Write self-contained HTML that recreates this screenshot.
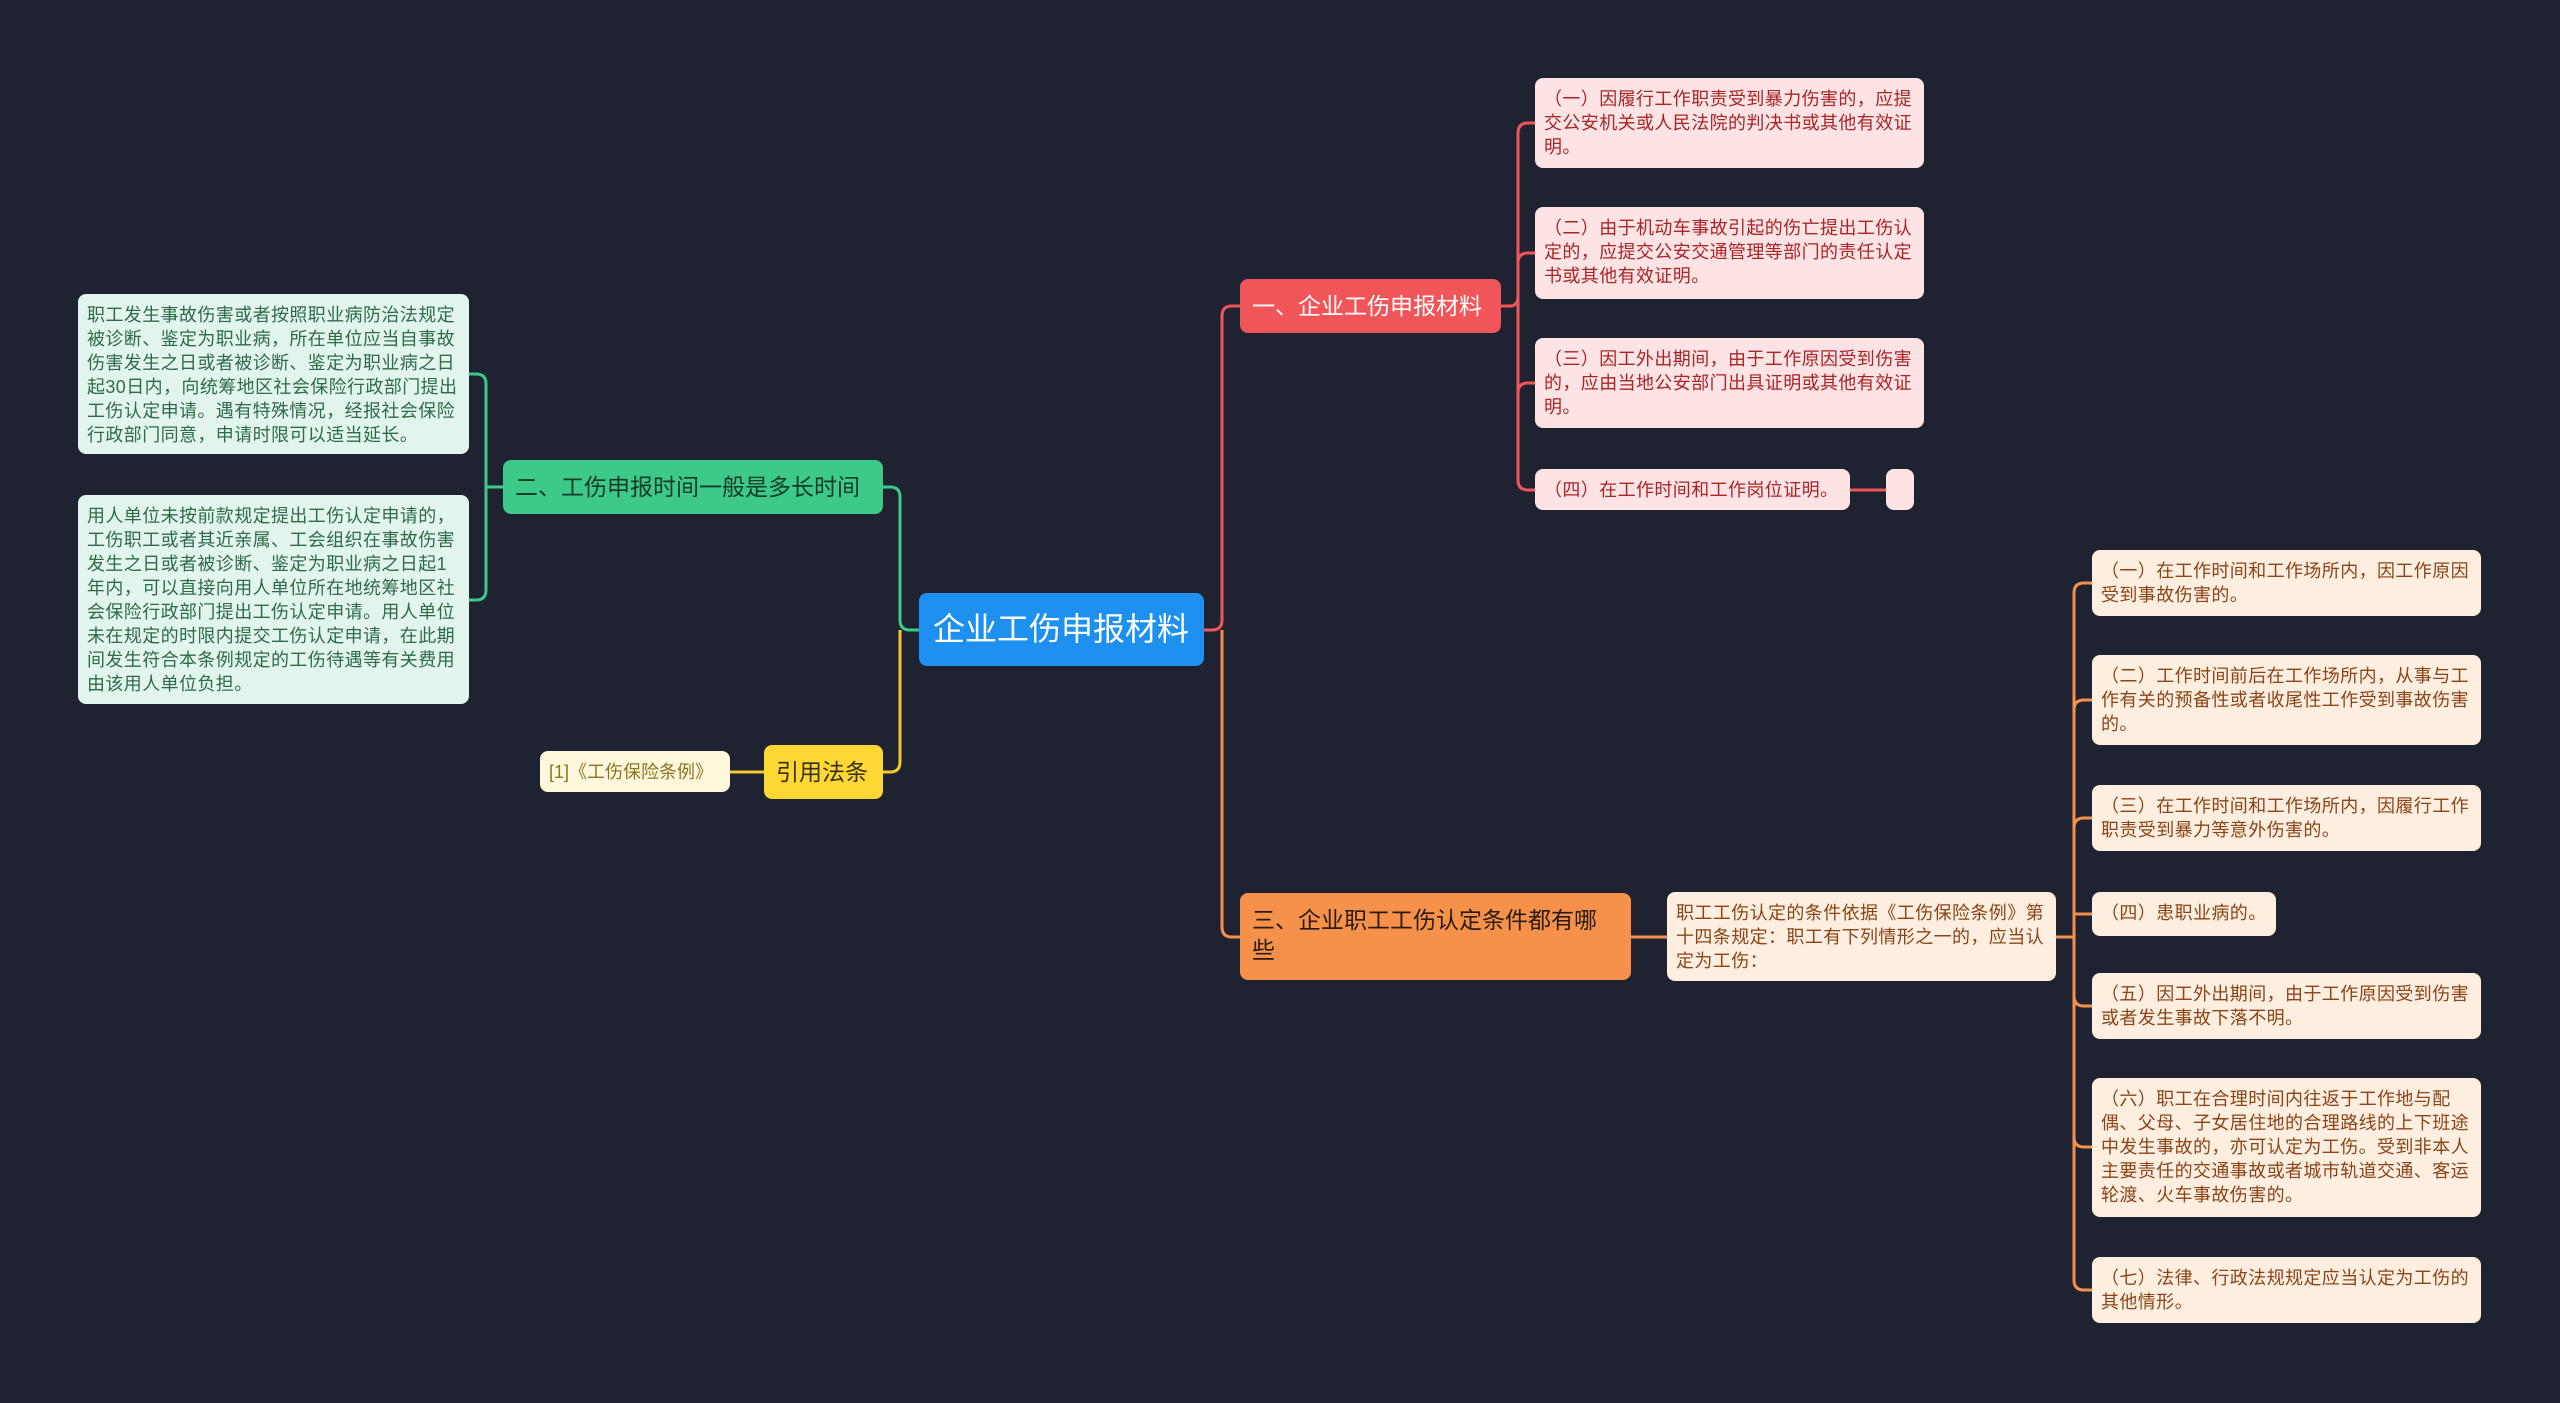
<!DOCTYPE html>
<html><head><meta charset="utf-8"><style>
body{margin:0;width:2560px;height:1403px;background:#1f2230;overflow:hidden;font-family:"Liberation Sans","Noto Sans CJK SC",sans-serif;position:relative}
.n{position:absolute;box-sizing:border-box;border-radius:8px;font-size:18px;letter-spacing:0.4px;line-height:24px;padding:9px 6px 8px 9px;}
.r{background:#fde3e3;color:#a8242a}
.g{background:#e1f5ec;color:#2e6a4a}
.o{background:#fdeedf;color:#8a4418}
.y{background:#fff7dc;color:#8a7420}
.b{font-size:23px;letter-spacing:0;line-height:30px;padding:12px 12px;}
svg{position:absolute;left:0;top:0}
</style></head><body>
<svg width="2560" height="1403" fill="none" stroke-width="3">
<g stroke="#f0555a">
<path d="M1204 630 H1212 Q1222 630 1222 620 V316 Q1222 306 1232 306 H1240"/>
<path d="M1501 306 H1510 Q1518 306 1518 296 V133 Q1518 123 1528 123 H1535"/>
<path d="M1518 296 V263 Q1518 253 1528 253 H1535"/>
<path d="M1518 296 V393 Q1518 383 1528 383 H1535"/>
<path d="M1518 296 V480 Q1518 490 1528 490 H1535"/>
<path d="M1850 490 H1886"/>
</g>
<g stroke="#f5914a">
<path d="M1222 630 V927 Q1222 937 1232 937 H1240"/>
<path d="M1631 937 H1667"/>
<path d="M2056 937 H2074"/>
<path d="M2074 937 V593 Q2074 583 2084 583 H2092"/>
<path d="M2074 710 Q2074 700 2084 700 H2092"/>
<path d="M2074 828 Q2074 818 2084 818 H2092"/>
<path d="M2074 914 H2092"/>
<path d="M2074 937 V996 Q2074 1006 2084 1006 H2092"/>
<path d="M2074 937 V1137 Q2074 1147 2084 1147 H2092"/>
<path d="M2074 937 V1280 Q2074 1290 2084 1290 H2092"/>
</g>
<g stroke="#3cc98a">
<path d="M919 630 H910 Q900 630 900 620 V497 Q900 487 890 487 H883"/>
<path d="M503 487 H486"/>
<path d="M486 487 V384 Q486 374 476 374 H469"/>
<path d="M486 487 V590 Q486 600 476 600 H469"/>
</g>
<g stroke="#f5c830">
<path d="M900 630 V762 Q900 772 890 772 H883"/>
<path d="M764 772 H730"/>
</g>
</svg>

<div class="n" style="left:919px;top:593px;width:285px;height:73px;background:#1e90f0;color:#fff;font-size:32px;letter-spacing:0;line-height:40px;padding:16px 14px">企业工伤申报材料</div>

<div class="n b" style="left:1240px;top:279px;width:261px;height:54px;background:#f0555a;color:#fff;">一、企业工伤申报材料</div>
<div class="n r" style="left:1535px;top:78px;width:389px;height:90px">（一）因履行工作职责受到暴力伤害的，应提交公安机关或人民法院的判决书或其他有效证明。</div>
<div class="n r" style="left:1535px;top:207px;width:389px;height:92px">（二）由于机动车事故引起的伤亡提出工伤认定的，应提交公安交通管理等部门的责任认定书或其他有效证明。</div>
<div class="n r" style="left:1535px;top:338px;width:389px;height:90px">（三）因工外出期间，由于工作原因受到伤害的，应由当地公安部门出具证明或其他有效证明。</div>
<div class="n r" style="left:1535px;top:469px;width:315px;height:41px;white-space:nowrap">（四）在工作时间和工作岗位证明。</div>
<div class="n r" style="left:1886px;top:469px;width:28px;height:41px"></div>

<div class="n b" style="left:1240px;top:893px;width:391px;height:87px;background:#f5914a;color:#2a1a10;">三、企业职工工伤认定条件都有哪些</div>
<div class="n o" style="left:1667px;top:892px;width:389px;height:89px">职工工伤认定的条件依据《工伤保险条例》第十四条规定：职工有下列情形之一的，应当认定为工伤：</div>
<div class="n o" style="left:2092px;top:550px;width:389px;height:66px">（一）在工作时间和工作场所内，因工作原因受到事故伤害的。</div>
<div class="n o" style="left:2092px;top:655px;width:389px;height:90px">（二）工作时间前后在工作场所内，从事与工作有关的预备性或者收尾性工作受到事故伤害的。</div>
<div class="n o" style="left:2092px;top:785px;width:389px;height:66px">（三）在工作时间和工作场所内，因履行工作职责受到暴力等意外伤害的。</div>
<div class="n o" style="left:2092px;top:892px;width:184px;height:44px;white-space:nowrap">（四）患职业病的。</div>
<div class="n o" style="left:2092px;top:973px;width:389px;height:66px">（五）因工外出期间，由于工作原因受到伤害或者发生事故下落不明。</div>
<div class="n o" style="left:2092px;top:1078px;width:389px;height:139px">（六）职工在合理时间内往返于工作地与配偶、父母、子女居住地的合理路线的上下班途中发生事故的，亦可认定为工伤。受到非本人主要责任的交通事故或者城市轨道交通、客运轮渡、火车事故伤害的。</div>
<div class="n o" style="left:2092px;top:1257px;width:389px;height:66px">（七）法律、行政法规规定应当认定为工伤的其他情形。</div>

<div class="n b" style="left:503px;top:460px;width:380px;height:54px;background:#3cc98a;color:#143a26;">二、工伤申报时间一般是多长时间</div>
<div class="n g" style="left:78px;top:294px;width:391px;height:160px">职工发生事故伤害或者按照职业病防治法规定被诊断、鉴定为职业病，所在单位应当自事故伤害发生之日或者被诊断、鉴定为职业病之日起30日内，向统筹地区社会保险行政部门提出工伤认定申请。遇有特殊情况，经报社会保险行政部门同意，申请时限可以适当延长。</div>
<div class="n g" style="left:78px;top:495px;width:391px;height:209px">用人单位未按前款规定提出工伤认定申请的，工伤职工或者其近亲属、工会组织在事故伤害发生之日或者被诊断、鉴定为职业病之日起1年内，可以直接向用人单位所在地统筹地区社会保险行政部门提出工伤认定申请。用人单位未在规定的时限内提交工伤认定申请，在此期间发生符合本条例规定的工伤待遇等有关费用由该用人单位负担。</div>

<div class="n b" style="left:764px;top:745px;width:119px;height:54px;background:#fdd835;color:#3a3010;">引用法条</div>
<div class="n y" style="left:540px;top:751px;width:190px;height:41px;font-size:18px;letter-spacing:0;white-space:nowrap">[1]《工伤保险条例》</div>
</body></html>
